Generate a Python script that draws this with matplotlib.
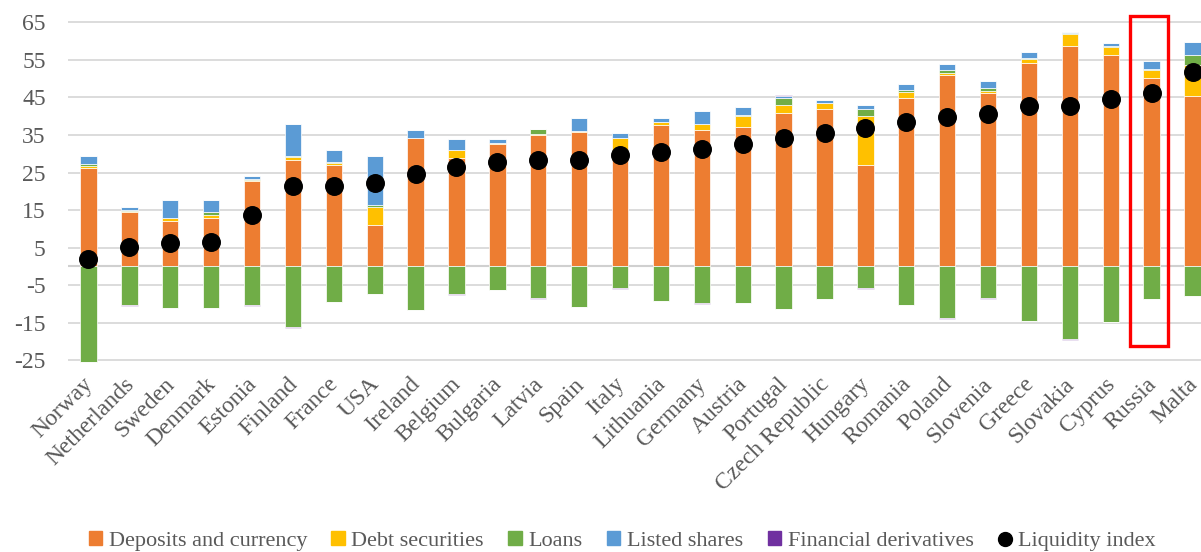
import numpy as np
import matplotlib
matplotlib.use('Agg')
import matplotlib.pyplot as plt
import matplotlib.transforms as mtransforms
from matplotlib.patches import Rectangle
from matplotlib.lines import Line2D

countries = ['Norway', 'Netherlands', 'Sweden', 'Denmark', 'Estonia', 'Finland', 'France', 'USA',
             'Ireland', 'Belgium', 'Bulgaria', 'Latvia', 'Spain', 'Italy', 'Lithuania', 'Germany',
             'Austria', 'Portugal', 'Czech Republic', 'Hungary', 'Romania', 'Poland', 'Slovenia',
             'Greece', 'Slovakia', 'Cyprus', 'Russia', 'Malta']

# positive parts, stacked from the bottom
deposits = [26.3, 14.6, 12.2, 13.0, 22.8, 28.4, 27.1, 11.0, 34.1, 29.0, 32.5, 34.9, 35.7, 29.4,
            37.8, 36.4, 37.2, 41.0, 42.0, 26.9, 44.8, 51.0, 46.2, 54.3, 58.6, 56.2, 50.1, 45.3]
debt = [0.5, 0.2, 0.7, 0.7, 0.3, 0.8, 0.5, 4.9, 0.1, 1.9, 0.4, 0.4, 0.3, 4.8,
        0.7, 1.5, 3.0, 2.1, 1.5, 13.2, 1.7, 0.6, 0.6, 1.0, 3.2, 2.3, 2.1, 8.3]
loans_pos = [0.6, 0.1, 0.1, 0.8, 0.1, 0.1, 0.2, 0.4, 0.0, 0.1, 0.0, 1.2, 0.1, 0.1,
             0.1, 0.1, 0.1, 1.7, 0.1, 1.8, 0.4, 0.6, 0.6, 0.3, 0.4, 0.1, 0.4, 2.7]
shares = [2.1, 0.8, 4.6, 3.2, 0.9, 8.6, 3.2, 13.2, 2.2, 3.0, 1.1, 0.2, 3.4, 1.3,
          1.0, 3.3, 2.2, 0.5, 0.7, 1.0, 1.6, 1.8, 2.0, 1.6, 0.3, 1.0, 2.2, 3.5]
deriv_pos = [0, 0, 0, 0, 0, 0, 0, 0, 0, 0, 0, 0, 0, 0,
             0, 0, 0, 0.4, 0, 0, 0, 0, 0, 0, 0, 0, 0, 0]
# negative parts
loans_neg = [-25.4, -10.3, -11.0, -11.0, -10.4, -16.2, -9.6, -7.4, -11.6, -7.4, -6.3, -8.4, -10.8, -5.7,
             -9.3, -9.8, -9.7, -11.4, -8.7, -5.8, -10.2, -13.8, -8.5, -14.6, -19.4, -14.8, -8.7, -8.0]
deriv_neg = [0, -0.2, -0.2, -0.2, -0.1, -0.3, 0, 0, 0, -0.2, 0, -0.2, 0, -0.2,
             0, -0.2, -0.1, 0, 0, -0.2, -0.2, -0.2, -0.2, 0, -0.2, 0, 0, 0]
liquidity = [1.9, 5.2, 6.2, 6.6, 13.6, 21.3, 21.5, 22.1, 24.6, 26.6, 27.7, 28.3, 28.4, 29.6,
             30.4, 31.3, 32.7, 34.1, 35.5, 37.0, 38.4, 39.9, 40.5, 42.7, 42.8, 44.7, 46.1, 51.7]

c_dep = '#ED7D31'
c_debt = '#FFC000'
c_loan = '#70AD47'
c_share = '#5B9BD5'
c_deriv = '#7030A0'

plt.rcParams['font.family'] = ['Liberation Serif', 'DejaVu Serif']
plt.rcParams['axes.unicode_minus'] = False

fig = plt.figure(figsize=(12.01, 5.52), dpi=100)
W, H = 1201, 552
ymin, ymax = -25.6, 65.3
top_px, bot_px = 21.3, 362.5
left_px, right_px = 68, 1213
ax = fig.add_axes([left_px / W, 1 - bot_px / H, (right_px - left_px) / W, (bot_px - top_px) / H])

x = np.arange(len(countries))
w = 0.4
edge = dict(edgecolor='white', linewidth=0.5)

bottom = np.zeros(len(x))
for vals, col in [(deposits, c_dep), (debt, c_debt), (loans_pos, c_loan), (shares, c_share), (deriv_pos, c_deriv)]:
    vals = np.array(vals)
    ax.bar(x, vals, w, bottom=bottom, color=col, zorder=2, **edge)
    bottom += vals

nbottom = np.zeros(len(x))
for vals, col in [(loans_neg, c_loan), (deriv_neg, c_deriv)]:
    vals = np.array(vals)
    ax.bar(x, vals, w, bottom=nbottom, color=col, zorder=2, **edge)
    nbottom += vals

ax.scatter(x, liquidity, s=160, color='black', zorder=4)

ax.set_xlim(-0.5, 27.5)
ax.set_ylim(ymin, ymax)
ax.set_yticks(np.arange(-25, 66, 10))
ax.yaxis.grid(True, color='#d9d9d9', linewidth=1.3, zorder=0)
ax.axhline(0, color='#d0d0d0', linewidth=1.5, zorder=1)
for s in ax.spines.values():
    s.set_visible(False)
ax.tick_params(axis='both', length=0, colors='#595959', labelsize=17)
ax.tick_params(axis='y', pad=16)
ax.set_xticks(x)
ax.set_xticklabels(countries, rotation=45, ha='right', rotation_mode='anchor', fontsize=17)
ax.tick_params(axis='x', pad=8)
shift = mtransforms.ScaledTranslation(-6 / 100, 0, fig.dpi_scale_trans)
for lab in ax.get_xticklabels():
    lab.set_transform(lab.get_transform() + shift)

# red highlight box around Russia
rect = Rectangle((25.48, -21.2), 0.93, 87.9, fill=False, edgecolor='#FF0000', linewidth=2.4,
                 clip_on=False, zorder=5)
ax.add_patch(rect)

handles = [
    Rectangle((0, 0), 1, 1, color=c_dep),
    Rectangle((0, 0), 1, 1, color=c_debt),
    Rectangle((0, 0), 1, 1, color=c_loan),
    Rectangle((0, 0), 1, 1, color=c_share),
    Rectangle((0, 0), 1, 1, color=c_deriv),
    Line2D([], [], marker='o', color='black', linestyle='none', markersize=10),
]
labels = ['Deposits and currency', 'Debt securities', 'Loans', 'Listed shares',
          'Financial derivatives', 'Liquidity index']
leg = fig.legend(handles, labels, loc='center', bbox_to_anchor=(622 / W, 1 - 541 / H), ncol=6,
                 frameon=False, fontsize=16, handlelength=0.6, handleheight=0.6,
                 handletextpad=0.3, columnspacing=1.1)
for t in leg.get_texts():
    t.set_color('#595959')

fig.savefig('out.png', dpi=100)
